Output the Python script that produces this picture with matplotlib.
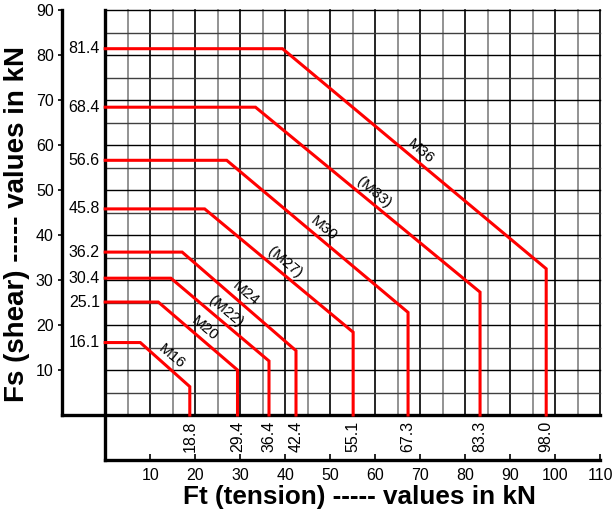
import numpy as np
import matplotlib
matplotlib.use("Agg")
import matplotlib.pyplot as plt

plt.rcParams['font.family'] = ['Liberation Sans', 'DejaVu Sans']

# bolt interaction curves : (Ft, Fs) in kN
bolts = ['M16', 'M20', '(M22)', 'M24', '(M27)', 'M30', '(M33)', 'M36']
fs_max = [16.1, 25.1, 30.4, 36.2, 45.8, 56.6, 68.4, 81.4]
ft_max = [18.8, 29.4, 36.4, 42.4, 55.1, 67.3, 83.3, 98.0]
ft_knee = [7.8, 11.8, 14.6, 17.1, 22.1, 27.0, 33.4, 39.4]
fs_knee = [6.3, 10.0, 12.0, 14.3, 18.4, 22.8, 27.3, 32.5]

x_ticks = list(range(10, 111, 10))
y_ticks = list(range(10, 91, 10))

fig = plt.figure(figsize=(6.12, 5.15), dpi=100)
ax = fig.add_axes([62 / 612, 55 / 515, 538.2 / 612, 450 / 515])
ax.set_xlim(-9.6, 110)
ax.set_ylim(-10, 90)

# grid
for x in range(5, 111, 5):
    c = 'black' if x % 10 == 0 else '#808080'
    ax.plot([x, x], [0, 90], color=c, lw=1.2, zorder=1, clip_on=False)
for y in range(5, 91, 5):
    c = 'black' if y % 10 == 0 else '#404040'
    ax.plot([0, 110], [y, y], color=c, lw=1.0, zorder=1, clip_on=False)

# heavy lines through origin
ax.plot([0, 0], [-10, 90], color='black', lw=2.4, zorder=3, clip_on=False)
ax.plot([-9.6, 110], [0, 0], color='black', lw=2.4, zorder=3, clip_on=False)

for i, name in enumerate(bolts):
    xs = [0, ft_knee[i], ft_max[i], ft_max[i]]
    ys = [fs_max[i], fs_max[i], fs_knee[i], 0]
    ax.plot(xs, ys, color='#ff0000', lw=2.2, zorder=4, solid_joinstyle='miter')
    # value labels
    ax.text(-1.2, fs_max[i], f'{fs_max[i]:.1f}', ha='right', va='center', fontsize=11.5)
    ax.text(ft_max[i], -1.2, f'{ft_max[i]:.1f}', ha='center', va='top', rotation=90, fontsize=11.5)
    # bolt name along the diagonal
    lx = ft_knee[i] + 0.5 * (ft_max[i] - ft_knee[i])
    ly = fs_max[i] + 0.5 * (fs_knee[i] - fs_max[i])
    ax.annotate(name, (lx, ly), xytext=(4.6, 5.5), textcoords='offset points',
                ha='center', va='center', rotation=-40, rotation_mode='anchor', fontsize=11, zorder=5)

for s in ['top', 'right']:
    ax.spines[s].set_visible(False)
for s in ['left', 'bottom']:
    ax.spines[s].set_linewidth(2.4)
ax.spines['left'].set_bounds(0, 90)
ax.spines['bottom'].set_bounds(0, 110)

ax.set_xticks(x_ticks)
ax.set_yticks(y_ticks)
ax.tick_params(axis='x', direction='in', length=4, width=1.2, labelsize=11.5, pad=6)
ax.tick_params(axis='y', direction='out', length=3, width=1.2, labelsize=11.5, pad=3)

fig.text(0.587, 0.035, 'Ft (tension) ----- values in kN', ha='center', va='center',
         fontsize=18.8, fontweight='bold')
fig.text(0.028, 0.566, 'Fs (shear) ----- values in kN', ha='center', va='center',
         fontsize=20, fontweight='bold', rotation=90)

fig.savefig('out.png', dpi=100)
